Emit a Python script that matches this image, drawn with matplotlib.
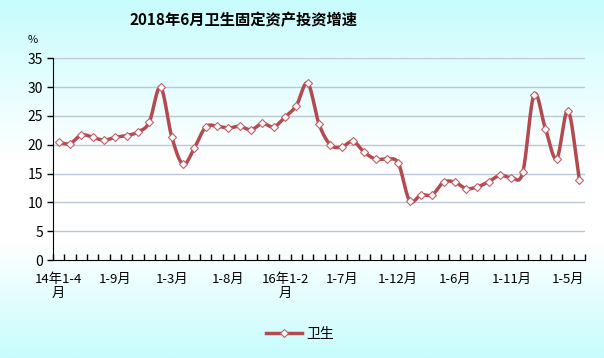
import numpy as np
import matplotlib
matplotlib.use("Agg")
import matplotlib.pyplot as plt
from matplotlib.colors import LinearSegmentedColormap
from matplotlib.lines import Line2D

plt.rcParams['font.family'] = ['Noto Sans CJK SC', 'DejaVu Sans']

title = "2018年6月卫生固定资产投资增速"
series_name = "卫生"
values = [20.4, 20.2, 21.7, 21.3, 20.8, 21.3, 21.6, 22.2, 23.9, 30.0,
          21.3, 16.6, 19.5, 23.1, 23.2, 22.9, 23.2, 22.6, 23.7, 23.1,
          24.8, 26.8, 30.7, 23.6, 20.0, 19.6, 20.6, 18.7, 17.5, 17.5,
          16.8, 10.3, 11.3, 11.3, 13.5, 13.5, 12.4, 12.7, 13.6, 14.7,
          14.3, 15.2, 28.7, 22.8, 17.6, 25.9, 13.9]
tick_idx = [0, 5, 10, 15, 20, 25, 30, 35, 40, 45]
tick_labels = ["14年1-4\n月", "1-9月", "1-3月", "1-8月", "16年1-2\n月",
               "1-7月", "1-12月", "1-6月", "1-11月", "1-5月"]
yticks = [0, 5, 10, 15, 20, 25, 30, 35]

W, H = 604, 358
fig = plt.figure(figsize=(W / 100, H / 100), dpi=100)

# background gradient
bg = fig.add_axes([0, 0, 1, 1], zorder=-10)
cmap = LinearSegmentedColormap.from_list("bg", ["#c8fcfd", "#ffffff", "#ffffff", "#c8fcfd"])
grad = np.concatenate([np.linspace(0, 0.33, 100), np.linspace(0.33, 0.55, 30), np.linspace(0.55, 1, 100)])
bg.imshow(grad.reshape(-1, 1), aspect='auto', cmap=cmap, extent=[0, 1, 0, 1], vmin=0, vmax=1)
bg.axis('off')

ax = fig.add_axes([53 / W, 1 - 260 / H, 532 / W, (260 - 58.3) / H])
ax.patch.set_alpha(0)

n = len(values)
x = np.arange(n)
y = np.array(values, dtype=float)

# Catmull-Rom smoothing (like Excel smoothed line)
def catmull(xp, yp, steps=20):
    px = np.concatenate([[2 * xp[0] - xp[1]], xp, [2 * xp[-1] - xp[-2]]])
    py = np.concatenate([[2 * yp[0] - yp[1]], yp, [2 * yp[-1] - yp[-2]]])
    xs, ys = [], []
    t = np.linspace(0, 1, steps, endpoint=False)
    for i in range(1, len(px) - 2):
        for arr, out in ((px, xs), (py, ys)):
            p0, p1, p2, p3 = arr[i - 1], arr[i], arr[i + 1], arr[i + 2]
            out.extend(0.5 * ((2 * p1) + (-p0 + p2) * t + (2 * p0 - 5 * p1 + 4 * p2 - p3) * t ** 2
                              + (-p0 + 3 * p1 - 3 * p2 + p3) * t ** 3))
    xs.append(xp[-1]); ys.append(yp[-1])
    return np.array(xs), np.array(ys)

sx, sy = catmull(x.astype(float), y)
lc = "#b34a4f"
ax.plot(sx, sy, color=lc, lw=2.5, solid_capstyle='round', zorder=3)
ax.plot(x, y, ls='none', marker='D', ms=4.2, mfc='white', mec='#c0606a', mew=0.8, zorder=4)

ax.set_xlim(-0.5, n - 0.5)
ax.set_ylim(0, 35)
ax.set_yticks(yticks)
ax.set_yticklabels([str(v) for v in yticks], fontsize=10)
for v in yticks[1:]:
    ax.axhline(v, color='#bcc8d8', lw=1, zorder=1)

ax.set_xticks(tick_idx)
ax.set_xticklabels(tick_labels, fontsize=9.5, linespacing=1.15, va='top')
ax.tick_params(axis='x', length=0, pad=9)
ax.set_xticks(np.arange(-0.5, n, 1), minor=True)
ax.tick_params(axis='x', which='minor', direction='in', length=4, width=1, color='black')
ax.tick_params(axis='y', direction='out', length=4, width=1, pad=3)

for s in ['top', 'right']:
    ax.spines[s].set_visible(False)
ax.spines['left'].set_color('black')
ax.spines['bottom'].set_color('black')

fig.text(33 / W, 1 - 40 / H, "%", fontsize=8, ha='center', va='center')
fig.text(244 / W, 1 - 20 / H, title, fontsize=11, fontweight='bold', ha='center', va='center')

handle = Line2D([], [], color=lc, lw=2.5, marker='D', ms=4.2, mfc='white', mec='#c0606a', mew=0.8)
fig.legend([handle], [series_name], loc='center', bbox_to_anchor=(300 / W, 1 - 334 / H),
           frameon=False, fontsize=10, handlelength=2.6, handletextpad=0.3)

fig.savefig("out.png", dpi=100)
